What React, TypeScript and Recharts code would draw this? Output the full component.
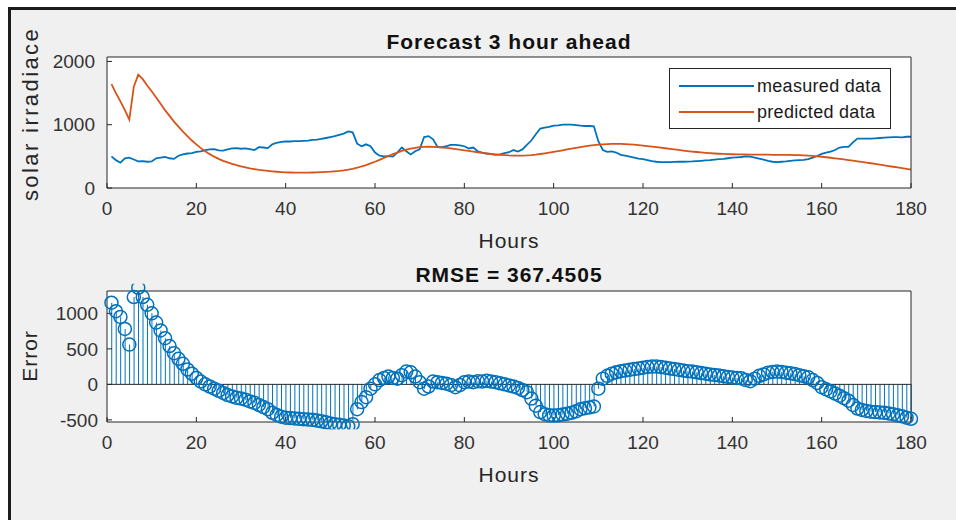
import React from 'react';
import {
  ComposedChart,
  LineChart,
  Line,
  Bar,
  XAxis,
  YAxis,
  CartesianGrid,
  ReferenceLine,
  Legend,
  Label,
} from 'recharts';

// ---------------- data ----------------
const hours: number[] = Array.from({ length: 180 }, (_, i) => i + 1);

const measured: number[] = [
  500, 440, 400, 470, 480, 450, 420, 425, 415, 420,
  470, 480, 490, 470, 460, 510, 530, 545, 550, 570,
  580, 600, 610, 615, 595, 590, 610, 625, 630, 620,
  625, 615, 600, 645, 640, 630, 690, 715, 730, 735,
  735, 740, 740, 745, 750, 760, 765, 775, 790, 805,
  820, 840, 860, 895, 880, 700, 660, 690, 660, 560,
  510, 500, 505, 495, 560, 640, 580, 530, 580, 610,
  805, 820, 770, 650, 645, 660, 680, 680, 675, 660,
  625, 640, 580, 560, 545, 535, 525, 530, 550, 565,
  600, 575, 610, 680, 750, 850, 940, 955, 965, 985,
  990, 1000, 1000, 1000, 995, 985, 980, 980, 975, 740,
  600, 570, 580, 560, 525, 510, 495, 480, 465, 455,
  440, 425, 415, 410, 410, 410, 412, 415, 415, 418,
  420, 425, 430, 435, 440, 450, 455, 460, 470, 480,
  485, 490, 500, 495, 480, 465, 450, 430, 415, 410,
  415, 420, 430, 435, 440, 445, 455, 480, 505, 540,
  560, 575, 600, 640, 650, 650, 720, 780, 780, 780,
  780, 785, 790, 795, 800, 805, 805, 800, 810, 810,
];

const predicted: number[] = [
  1640, 1500, 1370, 1230, 1080, 1600, 1790, 1720, 1620, 1530,
  1430, 1330, 1230, 1140, 1050, 970, 890, 820, 750, 690,
  630, 580, 535, 495, 460, 430, 405, 380, 360, 340,
  325, 310, 298, 287, 278, 270, 263, 257, 252, 248,
  245, 243, 242, 242, 243, 245, 247, 250, 254, 258,
  264, 271, 280, 291, 304, 320, 340, 362, 388, 415,
  445, 475, 505, 535, 560, 585, 605, 622, 635, 645,
  650, 652, 650, 646, 640, 633, 625, 615, 605, 595,
  585, 575, 565, 555, 545, 537, 530, 524, 519, 515,
  513, 512, 513, 516, 521, 528, 537, 547, 558, 570,
  583, 596, 609, 622, 635, 647, 658, 668, 677, 684,
  690, 694, 697, 698, 697, 694, 690, 685, 678, 671,
  663, 655, 646, 637, 628, 619, 610, 601, 592, 584,
  576, 569, 562, 556, 550, 545, 541, 538, 535, 533,
  531, 530, 529, 528, 527, 527, 526, 526, 525, 525,
  524, 523, 522, 521, 519, 516, 512, 507, 501, 494,
  486, 478, 469, 460, 451, 442, 432, 422, 412, 402,
  391, 380, 369, 358, 347, 336, 325, 314, 303, 292,
];

const errorValues: number[] = [
  1150, 1030, 950, 780, 560, 1230, 1360, 1230, 1120, 1000,
  870, 760, 650, 540, 440, 360, 290, 210, 150, 90,
  40, 0, -30, -60, -90, -120, -150, -170, -190, -200,
  -215, -240, -260, -290, -320, -350, -400, -430, -455, -470,
  -475, -480, -485, -490, -495, -500, -510, -520, -535, -550,
  -560, -570, -580, -590, -560, -350, -250, -180, -60, 0,
  60, 90, 110, 90, 80, 130, 180, 170, 110, 30,
  -60, -30, 40, 30, 20, 10, -10, -40, -10, 30,
  40, 30, 45, 40, 50, 40, 30, 15, 0, -15,
  -30, -50, -80, -110, -200, -300, -390, -420, -435, -440,
  -435, -425, -415, -400, -380, -350, -335, -325, -310, -60,
  80, 120, 150, 170, 185, 195, 205, 215, 225, 235,
  245, 250, 250, 245, 235, 225, 215, 205, 195, 185,
  180, 170, 160, 150, 140, 132, 125, 115, 105, 95,
  90, 85, 60, 45, 80, 120, 140, 165, 175, 180,
  175, 165, 155, 145, 130, 115, 100, 60, 20, -40,
  -70, -100, -130, -160, -195, -230, -290, -340, -360, -375,
  -385, -390, -395, -400, -410, -420, -435, -450, -470, -485,
];

const xTicks: number[] = [0, 20, 40, 60, 80, 100, 120, 140, 160, 180];
const topYTicks: number[] = [0, 1000, 2000];
const errYTicks: number[] = [-500, 0, 500, 1000];
const legendLabels: string[] = ['measured data', 'predicted data'];
const topTitle = 'Forecast 3 hour ahead';
const bottomTitle = 'RMSE = 367.4505';
const xLabel = 'Hours';
const topYLabel = 'solar irradiace';
const bottomYLabel = 'Error';

// ---------------- style ----------------
const FONT = '"Liberation Sans", Arial, Helvetica, sans-serif';
const BLUE = '#0072BD';
const ORANGE = '#D95319';
const AX = '#262626';
const TICK_FILL = '#333333';

const topData = hours.map((h, i) => ({ h, measured: measured[i], predicted: predicted[i] }));
const errData = hours.map((h, i) => ({ h, err: errorValues[i] }));

const tickStyle = { fontSize: 19, fill: TICK_FILL, fontFamily: FONT };

const plainText = (x: number, y: number, s: string, opts: any = {}) => (
  <text
    x={x}
    y={y}
    textAnchor="middle"
    fontFamily={FONT}
    fill={opts.fill || '#262626'}
    fontSize={opts.fontSize || 21}
    fontWeight={opts.bold ? 'bold' : 'normal'}
    letterSpacing={opts.ls || 0}
    transform={opts.rotate ? `rotate(-90, ${x}, ${y})` : undefined}
  >
    {s}
  </text>
);

const LegendBox = () => (
  <div
    style={{
      width: 222,
      height: 61,
      boxSizing: 'border-box',
      border: '1px solid #262626',
      background: '#ffffff',
      position: 'relative',
      fontFamily: FONT,
      fontSize: 18,
      color: '#1a1a1a',
    }}
  >
    {legendLabels.map((name, i) => (
      <div key={name}>
        <div
          style={{
            position: 'absolute',
            left: 9,
            top: 16 + i * 26,
            width: 75,
            height: 2,
            background: i === 0 ? BLUE : ORANGE,
          }}
        />
        <div
          style={{
            position: 'absolute',
            left: 87,
            top: 6 + i * 26,
            lineHeight: '22px',
            letterSpacing: 0.3,
            whiteSpace: 'nowrap',
          }}
        >
          {name}
        </div>
      </div>
    ))}
  </div>
);

export default function App() {
  return (
    <div
      style={{
        position: 'absolute',
        left: 0,
        top: 0,
        width: 956,
        height: 520,
        background: '#ffffff',
        overflow: 'hidden',
      }}
    >
      <div
        style={{
          position: 'absolute',
          left: 8,
          top: 7,
          width: 960,
          height: 520,
          background: '#f0f0f0',
          borderTop: '3px solid #1c1c1c',
          borderLeft: '3px solid #1c1c1c',
        }}
      />
      {/* top subplot */}
      <div style={{ position: 'absolute', left: 0, top: 0 }}>
        <LineChart
          width={956}
          height={256}
          data={topData}
          margin={{ top: 56, right: 44, left: 47, bottom: 38 }}
        >
          <CartesianGrid fill="#ffffff" stroke="none" />
          <XAxis
            dataKey="h"
            type="number"
            domain={[0, 180]}
            ticks={xTicks}
            tick={tickStyle}
            tickSize={-5}
            tickMargin={19}
            stroke={AX}
            height={30}
            allowDecimals={false}
          >
            <Label content={() => plainText(509, 248, xLabel, { ls: 1 })} />
          </XAxis>
          <XAxis
            xAxisId="top"
            orientation="top"
            type="number"
            domain={[0, 180]}
            ticks={xTicks}
            tick={false}
            tickSize={-5}
            stroke={AX}
            height={1}
          >
            <Label content={() => plainText(509, 48.5, topTitle, { bold: true, ls: 1, fill: '#111' })} />
          </XAxis>
          <YAxis
            domain={[0, 2070]}
            ticks={topYTicks}
            tick={tickStyle}
            tickSize={-5}
            tickMargin={17}
            stroke={AX}
            width={60}
            allowDataOverflow
          >
            <Label content={() => plainText(38, 114, topYLabel, { rotate: true, ls: 2.4, fontSize: 22 })} />
          </YAxis>
          <YAxis
            yAxisId="right"
            orientation="right"
            domain={[0, 2070]}
            ticks={topYTicks}
            tick={false}
            tickSize={-5}
            stroke={AX}
            width={1}
            allowDataOverflow
          />
          <Line
            dataKey="measured"
            name={legendLabels[0]}
            stroke={BLUE}
            strokeWidth={1.8}
            dot={false}
            activeDot={false}
            isAnimationActive={false}
          />
          <Line
            dataKey="predicted"
            name={legendLabels[1]}
            stroke={ORANGE}
            strokeWidth={1.8}
            dot={false}
            activeDot={false}
            isAnimationActive={false}
          />
          <Legend
            layout="vertical"
            align="center"
            verticalAlign="middle"
            wrapperStyle={{ left: 669, top: 68, width: 222, height: 61 }}
            content={() => <LegendBox />}
          />
        </LineChart>
      </div>
      {/* bottom subplot */}
      <div style={{ position: 'absolute', left: 0, top: 256 }}>
        <ComposedChart
          width={956}
          height={264}
          data={errData}
          margin={{ top: 34, right: 44, left: 47, bottom: 68 }}
        >
          <CartesianGrid fill="#ffffff" stroke="none" />
          <XAxis
            dataKey="h"
            type="number"
            domain={[0, 180]}
            ticks={xTicks}
            tick={tickStyle}
            tickSize={-5}
            tickMargin={19}
            stroke={AX}
            height={30}
          >
            <Label content={() => plainText(509, 225.5, xLabel, { ls: 1 })} />
          </XAxis>
          <XAxis
            xAxisId="top"
            orientation="top"
            type="number"
            domain={[0, 180]}
            ticks={xTicks}
            tick={false}
            tickSize={-5}
            stroke={AX}
            height={1}
          >
            <Label content={() => plainText(509, 25.5, bottomTitle, { bold: true, ls: 1, fill: '#111' })} />
          </XAxis>
          <YAxis
            domain={[-530, 1315]}
            ticks={errYTicks}
            tick={tickStyle}
            tickSize={-5}
            tickMargin={14}
            stroke={AX}
            width={60}
            allowDataOverflow
          >
            <Label content={() => plainText(37, 100, bottomYLabel, { rotate: true, ls: 1 })} />
          </YAxis>
          <YAxis
            yAxisId="right"
            orientation="right"
            domain={[-530, 1315]}
            ticks={errYTicks}
            tick={false}
            tickSize={-5}
            stroke={AX}
            width={1}
            allowDataOverflow
          />
          <Bar dataKey="err" fill={BLUE} barSize={1} isAnimationActive={false} />
          <ReferenceLine y={0} stroke={AX} strokeWidth={1} />
          <Line
            dataKey="err"
            stroke="none"
            dot={{ r: 6.5, stroke: BLUE, strokeWidth: 1.5, fill: 'none', clipDot: false }}
            activeDot={false}
            isAnimationActive={false}
          />
        </ComposedChart>
      </div>
    </div>
  );
}
